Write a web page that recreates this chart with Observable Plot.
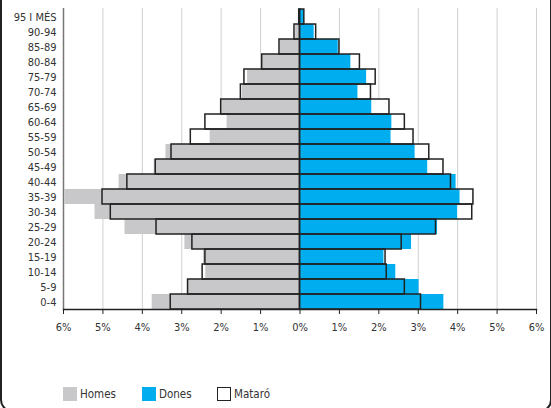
<!DOCTYPE html>
<html><head><meta charset="utf-8">
<script src="https://cdn.jsdelivr.net/npm/d3@7"></script>
<script src="https://cdn.jsdelivr.net/npm/@observablehq/plot@0.6"></script>
<style>
body{margin:0;background:#fff;font-family:"DejaVu Sans Condensed","DejaVu Sans",sans-serif;}
#wrap{position:relative;width:551px;height:408px;overflow:hidden;}
#border{position:absolute;left:0;top:-20px;width:552px;height:432px;box-sizing:border-box;border:2px solid #222;border-radius:12px;pointer-events:none;}
#chart{position:absolute;left:0;top:0;}
.leg{position:absolute;top:387px;display:flex;align-items:center;font-size:11.5px;color:#333;}
.sw{width:14px;height:14px;box-sizing:border-box;margin-right:3px;}
</style></head>
<body>
<div id="wrap">
  <div id="chart"></div>
  <div class="leg" style="left:63px"><div class="sw" style="background:#c8c8ca"></div>Homes</div>
  <div class="leg" style="left:142px"><div class="sw" style="background:#00aeef"></div>Dones</div>
  <div class="leg" style="left:217px"><div class="sw" style="border:1.5px solid #222;background:#fff"></div>Mataró</div>
  <div id="border"></div>
</div>
<script>
const ages = ["0-4","5-9","10-14","15-19","20-24","25-29","30-34","35-39","40-44","45-49","50-54","55-59","60-64","65-69","70-74","75-79","80-84","85-89","90-94","95 I MÉS"];
const homes = [3.75,2.85,2.39,2.45,2.92,4.44,5.2,5.96,4.59,3.7,3.4,2.28,1.85,2.0,1.46,1.33,0.95,0.5,0.11,0.02];
const dones = [3.65,3.02,2.43,2.13,2.83,3.49,4.0,4.06,3.96,3.24,2.92,2.31,2.33,1.82,1.47,1.69,1.29,0.97,0.36,0.11];
const mataroHomes = [3.28,2.84,2.47,2.4,2.73,3.64,4.8,5.01,4.38,3.66,3.26,2.77,2.4,2.0,1.5,1.41,0.96,0.52,0.14,0.02];
const mataroDones = [3.07,2.66,2.2,2.17,2.58,3.45,4.37,4.40,3.83,3.64,3.28,2.88,2.66,2.27,1.8,1.92,1.52,1.0,0.41,0.11];
const xTicks = [-6,-5,-4,-3,-2,-1,0,1,2,3,4,5,6];

const rowsH = ages.map((a,i)=>({age:a, v:-homes[i]}));
const rowsD = ages.map((a,i)=>({age:a, v:dones[i]}));
const outline = ages.flatMap((a,i)=>[{age:a, v:-mataroHomes[i]},{age:a, v:mataroDones[i]}]);

const chart = Plot.plot({
  width:551, height:340,
  marginTop:8, marginBottom:31, marginLeft:63, marginRight:15,
  style:{fontFamily:'"DejaVu Sans Condensed","DejaVu Sans",sans-serif', fontSize:"11px", color:"#333", background:"transparent"},
  x:{domain:[-6,6]},
  y:{domain:ages.slice().reverse(), padding:0},
  marks:[
    Plot.gridX(xTicks,{stroke:"#d0d0d0", strokeOpacity:1, strokeWidth:1}),
    Plot.barX(outline,{x1:0, x2:"v", y:"age", fill:"#fff"}),
    Plot.barX(rowsH,{x1:0, x2:"v", y:"age", fill:"#c8c8ca"}),
    Plot.barX(rowsD,{x1:0, x2:"v", y:"age", fill:"#00aeef"}),
    Plot.barX(outline,{x1:0, x2:"v", y:"age", fill:"none", stroke:"#222", strokeWidth:1.5}),
    Plot.ruleX([-6],{stroke:"#777", strokeWidth:1.5}),
    Plot.frame({anchor:"bottom", stroke:"#222", strokeWidth:1.5}),
    Plot.axisX(xTicks,{tickSize:5, tickPadding:9, tickFormat:d=>Math.abs(d)+"%", stroke:"#222", label:null}),
    Plot.axisY({tickSize:0, tickPadding:7, label:null})
  ]
});
document.getElementById("chart").appendChild(chart);
</script>
</body></html>
